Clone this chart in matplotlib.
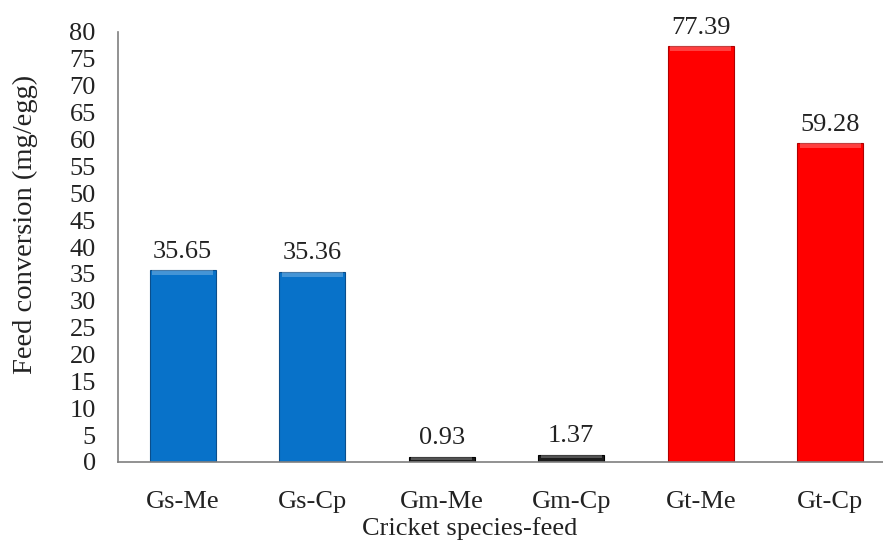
import matplotlib
matplotlib.use("Agg")
import matplotlib.pyplot as plt
from matplotlib.patches import Rectangle

categories = ["Gs-Me", "Gs-Cp", "Gm-Me", "Gm-Cp", "Gt-Me", "Gt-Cp"]
values = [35.65, 35.36, 0.93, 1.37, 77.39, 59.28]
colors = ["#0872C9", "#0872C9", "#1C1C1C", "#1C1C1C", "#FF0000", "#FF0000"]
edge_colors = ["#0A4E8C", "#0A4E8C", "#000000", "#000000", "#B00000", "#B00000"]
yticks = list(range(0, 81, 5))

plt.rcParams["font.family"] = ["Liberation Serif", "DejaVu Serif"]
FS = 19

fig = plt.figure(figsize=(8.83, 5.45), dpi=100)
W, H = 883, 545
left, bottom, top, right = 118, 462, 32, 883
ax = fig.add_axes([left / W, 1 - bottom / H, (right - left) / W, (bottom - top) / H])

x = list(range(len(categories)))
bw = 0.51
ax.bar(x, values, width=bw, color=colors, edgecolor=edge_colors, linewidth=0.8, zorder=2)

# light bevel along the top of each bar
for xi, v in zip(x, values):
    h = min(0.9, v * 0.5)
    ax.add_patch(Rectangle((xi - bw / 2 + 0.02, v - h), bw - 0.04, h,
                           facecolor="white", alpha=0.25, linewidth=0, zorder=3))

for xi, v in zip(x, values):
    ax.text(xi, v + 1.4, f"{v:.2f}", ha="center", va="bottom", fontsize=FS, color="#222222")

ax.set_xlim(-0.5, (right - left) / 129.5 - 0.5)
ax.set_ylim(0, 80)
ax.set_yticks(yticks)
ax.set_yticklabels([str(t) for t in yticks], fontsize=FS, color="#222222")
ax.set_xticks(x)
ax.set_xticklabels(categories, fontsize=FS, color="#222222")
ax.tick_params(axis="y", length=0, pad=16)
ax.tick_params(axis="x", length=0, pad=21)

for s in ["top", "right"]:
    ax.spines[s].set_visible(False)
for s in ["left", "bottom"]:
    ax.spines[s].set_color("#7F7F7F")
    ax.spines[s].set_linewidth(1.2)

fig.text(470 / W, 1 - 529 / H, "Cricket species-feed", fontsize=FS, color="#222222",
         ha="center", va="center")
fig.text(25 / W, 1 - 224 / H, "Feed conversion (mg/egg)", fontsize=20.5, color="#222222",
         ha="center", va="center", rotation=90)

fig.savefig("out.png", dpi=100)
